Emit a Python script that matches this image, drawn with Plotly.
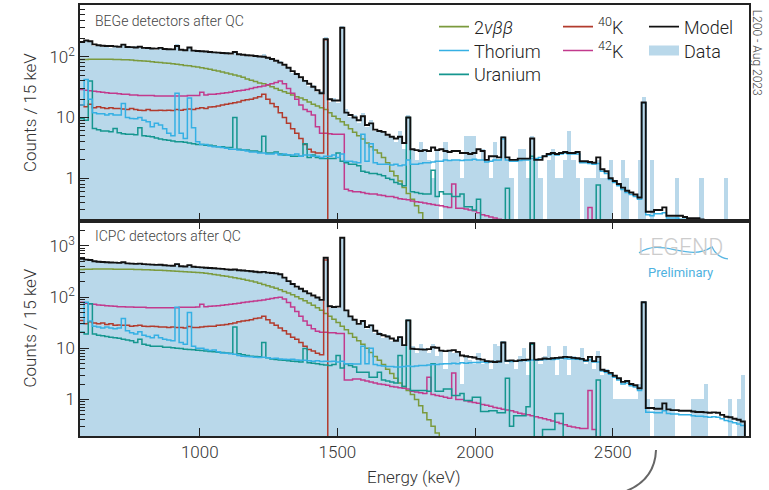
import plotly.graph_objects as go

# ---------------- data (15 keV bins, 565 - 2980 keV, 161 bins) ----------------
BIN_LO = 565
BIN_W = 15
N_BINS = 161

# ---- BEGe panel ----
model_top = [175, 185, 180, 160, 155, 152, 150, 150, 148, 146,
             158, 145, 144, 142, 146, 140, 139, 137, 136, 140,
             134, 133, 132, 150, 130, 128, 142, 126, 124, 123,
             122, 120, 118, 117, 115, 114, 113, 120, 110, 108,
             106, 105, 103, 101, 100, 96, 92, 86, 80, 74,
             66, 58, 52, 46, 40, 36, 32, 28, 25, 195,
             20, 19, 19, 300, 12, 11, 10, 9, 10.5, 7.5,
             8, 6.3, 6.0, 5.8, 5.2, 4.8, 4.5, 4.8, 3.8, 10,
             3.0, 2.9, 2.8, 2.9, 2.8, 3.2, 2.9, 3.0, 2.8, 2.7,
             2.8, 2.8, 2.6, 2.6, 2.5, 2.6, 3.0, 2.8, 2.0, 2.3,
             2.3, 2.2, 4.7, 2.2, 2.0, 2.0, 2.1, 2.1, 2.1, 4.5,
             2.0, 2.0, 2.3, 2.5, 2.6, 2.5, 2.6, 2.7, 2.6, 2.6,
             2.7, 1.9, 1.9, 1.85, 1.8, 2.2, 1.4, 1.3, 1.0, 0.9,
             0.8, 0.7, 0.62, 0.58, 0.54, 0.48, 17.6, 0.28, 0.28, 0.3,
             0.3, 0.33, 0.24, 0.24, 0.24, 0.24, 0.23, 0.22, 0.22, 0.22,
             0.21, 0.18, 0.17, 0.16, 0.15, 0.14, 0.13, 0.12, 0.11, 0.1, 0.1]

data_top = [178, 180, 185, 150, 158, 146, 152, 140, 150, 138,
            165, 143, 140, 148, 138, 142, 132, 140, 128, 142,
            136, 128, 134, 160, 126, 130, 140, 128, 118, 126,
            118, 122, 114, 120, 110, 118, 108, 126, 112, 104,
            108, 100, 106, 98, 110, 94, 95, 82, 84, 70,
            68, 55, 54, 43, 42, 33, 34, 26, 27, 210,
            18, 21, 17, 320, 14, 10, 11, 8, 12, 7,
            9, 6, 6, 6, 5, 5, 4, 6, 3, 11,
            3, 2, 4, 3, 2, 1, 3, 0, 4, 2,
            2, 2, 1, 5, 5, 5, 2, 3, 2, 1,
            4, 2, 5, 2, 1, 0, 3, 3, 1, 5,
            2, 1, 0, 2, 3, 1, 1, 2, 6, 2,
            1, 0, 1, 1, 1, 2, 1, 1, 2, 0,
            0, 2, 1, 0, 0, 2, 22, 0, 2, 0,
            0, 0, 0, 0, 1, 0, 0, 0, 0, 0,
            1, 0, 0, 0, 0, 0, 1, 0, 0, 0, 0]

bb_top = [90, 90, 91, 91, 91, 91, 91, 91, 90, 90,
          89, 89, 88, 87, 86, 85, 84, 83, 81, 80,
          79, 78, 77, 75, 74, 72, 71, 69, 68, 66,
          64, 62, 60, 58, 56, 54, 52, 50, 48, 46,
          43, 41, 39, 37, 36, 34, 32, 30, 28, 26.5,
          25, 23.5, 22, 21, 19.5, 18, 16.5, 15.5, 14.5, 13.5,
          12, 10.5, 9.5, 8.5, 7.5, 6.5, 5.7, 5.0, 4.4, 3.8,
          3.3, 2.9, 2.6, 2.2, 1.8, 1.3, 1.1, 0.9, 0.7, 0.56,
          0.45, 0.35, 0.27, 0.2, 0.15, 0.11, 0.08, 0.06, 0.04, 0.03] + [0.02] * 71

th_top = [16, 42, 20, 12, 11.5, 11.5, 11, 11.5, 11, 11,
          17, 10, 9.6, 9.5, 10, 9.0, 8.5, 7.0, 8.0, 7.5,
          6.5, 5.5, 5.0, 25, 5.5, 4.5, 21, 6.8, 4.0, 3.6,
          3.6, 3.4, 3.3, 3.3, 3.2, 3.1, 3.0, 3.0, 2.9, 2.9,
          2.8, 2.7, 2.7, 2.6, 2.6, 2.5, 2.5, 2.6, 2.4, 2.5,
          2.4, 2.4, 2.5, 2.3, 2.4, 2.4, 2.3, 2.3, 2.2, 2.3,
          2.3, 2.4, 2.2, 2.5, 1.9, 1.9, 1.85, 1.8, 5.3, 1.9,
          3.7, 1.8, 1.7, 1.7, 1.7, 1.65, 1.7, 1.6, 1.65, 2.0,
          1.7, 1.7, 1.75, 1.8, 1.8, 1.85, 1.9, 1.9, 2.0, 1.95,
          2.0, 2.0, 1.95, 2.0, 2.0, 2.05, 2.0, 2.0, 1.85, 1.9,
          2.0, 2.0, 4.4, 2.0, 1.9, 1.9, 1.95, 2.0, 2.0, 2.1,
          2.1, 2.2, 2.3, 2.4, 2.5, 2.4, 2.5, 2.6, 2.5, 2.5,
          2.5, 1.8, 1.8, 1.75, 1.7, 1.75, 1.3, 1.2, 0.95, 0.85,
          0.75, 0.65, 0.58, 0.54, 0.5, 0.45, 17.4, 0.25, 0.24, 0.26,
          0.26, 0.27, 0.22, 0.22, 0.22, 0.21, 0.21, 0.2, 0.2, 0.2,
          0.19, 0.17, 0.16, 0.15, 0.14, 0.13, 0.12, 0.11, 0.1, 0.1, 0.09]

u_top = [9.6, 9, 40, 6.6, 6.3, 6.0, 6.0, 5.8, 6.6, 5.6,
         5.4, 5.3, 5.3, 5.2, 6.8, 5.0, 4.9, 4.8, 4.6, 4.4,
         4.3, 4.2, 4.1, 4.0, 4.0, 3.9, 3.8, 3.7, 3.6, 3.6,
         3.5, 3.5, 3.4, 3.3, 3.3, 3.2, 3.2, 10, 3.0, 2.9,
         2.9, 2.8, 2.8, 2.7, 4.9, 2.6, 2.6, 2.7, 2.5, 2.4,
         2.4, 2.3, 2.3, 2.3, 3.7, 2.2, 2.4, 2.2, 2.1, 2.1,
         2.1, 2.1, 2.6, 1.9, 1.8, 1.7, 1.7, 1.6, 1.3, 1.25,
         1.2, 1.2, 1.15, 1.1, 1.0, 0.95, 0.85, 0.8, 0.75, 10,
         0.6, 0.58, 0.56, 0.55, 0.55, 1.35, 0.5, 0.6, 0.55, 0.55,
         0.5, 0.5, 0.55, 0.34, 0.34, 0.3, 0.45, 0.15, 0.15, 0.15,
         0.14, 0.14, 0.14, 0.68, 0.13, 0.13, 0.12, 0.12, 0.12, 2.3,
         0.11, 0.11, 0.11, 0.1, 0.1, 0.1, 0.1, 0.1, 0.1, 0.1,
         0.1, 0.1, 0.1, 0.1, 0.1, 0.77, 0.08, 0.08, 0.08, 0.08] + [0.08] * 31

k40_top = [16, 15, 16.5, 14.5, 15, 14.5, 14, 14.5, 14, 14,
           13.8, 13.5, 14, 13.5, 13.2, 13, 13.5, 13, 13, 13.2,
           13, 13.2, 13, 13.5, 13.2, 13.5, 13.8, 13.5, 14, 14.5,
           14, 14.8, 15, 15.5, 16, 16.5, 17, 17.5, 18, 19,
           19.5, 20, 21, 22, 24, 20, 17, 15, 12, 10,
           8, 6.5, 5.5, 4.5, 3.6, 3.0, 2.7, 2.6, 2.6, 190] + [0.01] * 101

k42_top = [29, 28, 27.5, 27, 26.5, 26, 25.5, 25, 25, 24.5,
           24, 24, 23.5, 23.5, 23, 23, 23, 23, 22.5, 22.5,
           22.5, 22.5, 22.5, 22.5, 22.5, 22.5, 23, 23, 23, 26,
           23.5, 24, 24, 24.5, 25, 25.5, 26, 27, 27.5, 28,
           29, 30, 31, 32, 33, 34.5, 36, 37.5, 40, 36,
           30, 25, 20, 16, 13.5, 12.5, 11, 7, 5.5, 5.5,
           5.4, 5.3, 5.3, 5.3, 0.66, 0.62, 0.6, 0.6, 0.58, 0.56,
           0.55, 0.55, 0.53, 0.52, 0.5, 0.5, 0.48, 0.46, 0.45, 0.44,
           0.42, 0.41, 0.4, 0.39, 0.38, 0.37, 0.36, 0.35, 0.34, 0.33,
           0.8, 0.32, 0.32, 0.31, 0.3, 0.29, 0.27, 0.25, 0.24, 0.23,
           0.22, 0.21, 0.2, 0.2, 0.19, 0.18, 0.17, 0.17, 0.16, 0.16,
           0.15, 0.15, 0.14, 0.14, 0.13, 0.13, 0.12, 0.12, 0.12, 0.11,
           0.11, 0.11, 0.1, 0.33, 0.1, 0.05, 0.05, 0.05, 0.05, 0.05] + [0.05] * 31

# ---- ICPC panel ----
model_bot = [560, 540, 530, 500, 490, 485, 480, 475, 470, 465,
             480, 455, 450, 445, 450, 440, 435, 430, 425, 428,
             418, 412, 408, 440, 400, 396, 420, 390, 385, 380,
             375, 370, 365, 360, 355, 348, 342, 345, 335, 330,
             325, 320, 312, 305, 310, 300, 295, 290, 280, 240,
             205, 180, 160, 145, 130, 118, 107, 98, 88, 585,
             66, 64, 65, 1440, 55, 42, 36, 30, 34, 26,
             28, 22, 19, 18, 17, 15.5, 14, 16.5, 11.5, 35,
             9.8, 9.6, 9.5, 9.4, 9.6, 10.5, 10.2, 9.0, 8.8, 9.0,
             9.2, 8.5, 7.2, 7.0, 6.8, 6.6, 6.2, 6.0, 5.6, 5.5,
             5.4, 5.5, 13, 5.7, 5.8, 5.6, 5.8, 5.9, 6.0, 12.6,
             6.0, 6.1, 6.3, 6.2, 6.4, 6.5, 6.6, 6.8, 6.7, 6.5,
             6.4, 6.2, 5.8, 6.8, 5.6, 6.8, 3.8, 3.6, 3.3, 2.9,
             2.6, 2.2, 2.3, 2.0, 1.9, 1.66, 79, 0.68, 0.68, 0.66,
             0.66, 0.84, 0.64, 0.62, 0.62, 0.6, 0.6, 0.6, 0.58, 0.57,
             0.57, 0.56, 0.55, 0.56, 0.55, 0.5, 0.46, 0.45, 0.42, 0.4, 0.37]

data_bot = [570, 535, 545, 495, 505, 478, 488, 470, 482, 455,
            490, 448, 460, 438, 455, 432, 440, 425, 420, 432,
            412, 418, 400, 460, 405, 392, 425, 384, 390, 372,
            380, 362, 372, 352, 360, 340, 348, 350, 330, 335,
            318, 325, 305, 310, 315, 298, 290, 297, 272, 250,
            198, 185, 152, 150, 124, 122, 100, 102, 84, 600,
            62, 68, 61, 1480, 57, 40, 38, 28, 36, 24,
            30, 20, 21, 16, 18, 14, 15, 17, 11, 38,
            11, 8, 12, 10, 8, 12, 7, 9, 4, 9,
            8, 9, 2, 7, 6, 5, 8, 5, 6, 4,
            12, 11, 14, 5, 6, 4, 7, 10, 3, 13,
            6, 5, 7, 11, 6, 3, 6, 11, 3, 7,
            6, 10, 5, 7, 4, 9, 3, 4, 3, 1,
            1, 1, 1, 1, 1, 2, 85, 1, 0, 1,
            1, 1, 1, 1, 0, 0, 0, 0, 1, 1,
            1, 2, 0, 0, 0, 0, 0, 1, 0, 1, 3]

bb_bot = [345, 348, 350, 352, 352, 352, 352, 352, 351, 351,
          350, 349, 348, 347, 345, 343, 341, 339, 336, 333,
          330, 327, 323, 320, 316, 313, 309, 306, 302, 298,
          291, 284, 277, 270, 262, 254, 246, 238, 230, 222,
          213, 205, 196, 187, 177, 167, 158, 148, 139, 129,
          120, 111, 101, 93, 85, 77, 69, 62, 55, 48,
          42, 37, 32, 27, 23, 19.5, 16.5, 14, 12, 10,
          8.3, 6.9, 5.8, 4.8, 3.9, 3.2, 2.6, 2.1, 1.8, 1.5,
          1.25, 1.0, 0.75, 0.55, 0.4, 0.3, 0.22, 0.15, 0.1, 0.07] + [0.05] * 71

th_bot = [30, 79, 34, 27, 26, 25, 26, 25, 24, 25,
          38, 22, 20, 19, 21, 18, 17, 16, 18, 16,
          15, 14.5, 14, 63, 13, 12, 50, 11, 10, 10,
          9.5, 9, 9.2, 8.5, 8.1, 8, 7.8, 7.6, 7.2, 7,
          6.9, 6.8, 6.7, 6.6, 6.7, 6.5, 6.3, 6.4, 6.2, 6.1,
          6.0, 6.1, 5.9, 5.8, 5.8, 5.7, 5.6, 5.7, 5.5, 5.6,
          5.5, 5.6, 5.4, 5.6, 5.0, 5.0, 4.9, 4.9, 11, 5.0,
          10, 4.8, 4.6, 4.5, 4.4, 4.4, 4.3, 4.3, 4.4, 4.5,
          4.4, 4.5, 4.6, 4.6, 4.7, 4.8, 4.8, 4.9, 5.0, 5.0,
          5.1, 5.0, 5.2, 5.1, 5.2, 5.3, 5.3, 5.4, 5.3, 5.4,
          5.5, 5.4, 13, 5.6, 5.5, 5.6, 5.7, 5.8, 5.7, 5.9,
          5.8, 5.9, 6.0, 6.1, 6.0, 6.2, 6.3, 6.3, 6.2, 6.2,
          6.1, 6.0, 5.6, 5.9, 5.4, 5.4, 3.6, 3.4, 3.1, 2.7,
          2.4, 2.0, 2.1, 1.85, 1.75, 1.5, 78, 0.56, 0.56, 0.55,
          0.55, 0.6, 0.53, 0.52, 0.52, 0.5, 0.5, 0.5, 0.48, 0.47,
          0.47, 0.46, 0.45, 0.46, 0.45, 0.42, 0.39, 0.37, 0.35, 0.33, 0.31]

u_bot = [20.5, 19, 74, 19, 18, 17.5, 17, 16.5, 16, 15.6,
         15, 14.5, 14, 13, 15, 12, 11.5, 11, 11, 11,
         10.5, 10.5, 10.2, 10, 9.9, 9.6, 9.5, 9.3, 9.1, 9,
         8.8, 8.6, 8.5, 8.4, 8.3, 8.1, 8.0, 26, 7.8, 7.5,
         7.2, 7.0, 6.9, 6.8, 13, 6.5, 6.2, 6.0, 5.9, 5.8,
         5.7, 5.6, 5.5, 5.4, 9.9, 5.2, 5.1, 5.0, 4.8, 4.7,
         4.6, 4.8, 7.2, 4.1, 5.0, 4.6, 4.3, 3.4, 3.4, 3.4,
         2.7, 2.7, 3.4, 2.4, 2.3, 2.2, 2.1, 7.2, 1.8, 35,
         1.5, 1.5, 1.5, 1.5, 1.45, 5.0, 1.45, 1.45, 1.6, 1.6,
         1.2, 1.2, 1.3, 0.95, 0.95, 1.1, 1.1, 0.58, 0.58, 0.6,
         0.6, 0.55, 0.55, 2.6, 0.3, 0.48, 0.48, 0.48, 0.72, 12,
         0.15, 0.15, 0.26, 0.26, 0.26, 0.53, 0.53, 0.15, 0.15, 0.15,
         0.15, 0.15, 0.15, 0.15, 0.15, 2.4, 0.1, 0.1, 0.1, 0.1] + [0.1] * 31

k40_bot = [35, 30, 33, 31, 30, 31, 29, 30, 28, 28.5,
           28, 28, 27, 27.5, 28, 27, 26.5, 27, 26.5, 26,
           26, 25.5, 26, 25.5, 25.5, 25, 26.5, 25.5, 25.5, 26,
           26.5, 27, 27, 28, 28.5, 29, 30, 31, 33, 34,
           35, 36, 38, 39, 42, 36, 31, 28, 25, 22,
           19, 16.5, 15, 13, 11, 9.5, 8.8, 8, 7.5, 530] + [0.01] * 101

k42_bot = [79, 76, 74, 72, 70, 69, 68, 67, 66, 65,
           65, 64, 64, 63, 63, 63, 62, 62, 62, 62,
           62, 62, 62, 62, 63, 63, 63, 63, 64, 72,
           65, 66, 67, 68, 69, 71, 72, 74, 76, 78,
           80, 82, 84, 86, 88, 91, 94, 97, 99, 92,
           78, 64, 52, 42, 34, 28, 24, 21.5, 20.5, 20.5,
           20, 20, 19.5, 19.5, 2.4, 2.4, 2.5, 2.5, 2.4, 2.3,
           2.2, 2.1, 2.0, 1.95, 1.9, 1.8, 1.75, 1.7, 1.65, 1.6,
           1.45, 1.4, 1.35, 1.3, 2.7, 1.25, 1.2, 1.15, 1.1, 1.05,
           3.3, 1.0, 1.0, 0.94, 0.9, 0.87, 0.84, 0.8, 0.77, 0.74,
           0.7, 0.67, 0.64, 0.62, 0.6, 0.57, 0.54, 0.52, 0.5, 0.48,
           0.46, 0.44, 0.42, 0.4, 0.38, 0.36, 0.34, 0.32, 0.3, 0.29,
           0.28, 0.27, 0.27, 1.5, 0.26, 0.1, 0.1, 0.1, 0.1, 0.1] + [0.1] * 31

legend_labels = ["2<i>νββ</i>", "Thorium", "Uranium",
                 "<sup>40</sup>K", "<sup>42</sup>K", "Model", "Data"]
panel_labels = ["BEGe detectors after QC", "ICPC detectors after QC"]
x_ticks = [1000, 1500, 2000, 2500]

for arr in [model_top, data_top, bb_top, th_top, u_top, k40_top, k42_top,
            model_bot, data_bot, bb_bot, th_bot, u_bot, k40_bot, k42_bot]:
    assert len(arr) == N_BINS, len(arr)

# ---------------- styling ----------------
FONT = "Roboto"
C_DATA = "#b9d8ea"
C_MODEL = "#111111"
C_TH = "#35b0e4"
C_U = "#15968f"
C_BB = "#7b9a3d"
C_K40 = "#b23b2d"
C_K42 = "#c23a8d"

W, H = 769, 490
ML, MR, MT, MB = 80, 20, 3, 54
PW = W - ML - MR
PH = H - MT - MB
SPLIT = (436 - 220) / PH


def px_x(px):
    return (px - ML) / PW


def px_y(py):
    return (H - MB - py) / PH


edges = [BIN_LO + BIN_W * i for i in range(N_BINS + 1)]
centers = [e + BIN_W / 2 for e in edges[:-1]]

fig = go.Figure()


def add_panel(xa, ya, data, model, bb, th, u, k40, k42):
    fig.add_trace(go.Bar(x=centers, y=[v if v > 0 else None for v in data],
                         width=BIN_W, marker=dict(color=C_DATA, line=dict(width=0)),
                         showlegend=False, xaxis=xa, yaxis=ya, hoverinfo="skip"))
    for vals, col, lw in [(bb, C_BB, 1.5), (k42, C_K42, 1.5), (k40, C_K40, 1.5),
                          (u, C_U, 1.5), (th, C_TH, 1.5), (model, C_MODEL, 1.9)]:
        fig.add_trace(go.Scatter(x=edges, y=list(vals) + [1e-3], mode="lines",
                                 line=dict(color=col, width=lw, shape="hv"),
                                 showlegend=False, xaxis=xa, yaxis=ya, hoverinfo="skip"))


add_panel("x", "y", data_top, model_top, bb_top, th_top, u_top, k40_top, k42_top)
add_panel("x2", "y2", data_bot, model_bot, bb_bot, th_bot, u_bot, k40_bot, k42_bot)

# legend entries: one small legend per entry so rows sit exactly as in the figure
leg_items = [(legend_labels[0], C_BB, 1.6, 434, 25),
             (legend_labels[1], C_TH, 1.6, 434, 49),
             (legend_labels[2], C_U, 1.6, 434, 73),
             (legend_labels[3], C_K40, 1.6, 558, 25),
             (legend_labels[4], C_K42, 1.6, 558, 49),
             (legend_labels[5], C_MODEL, 1.6, 644, 25),
             (legend_labels[6], C_DATA, 13, 644, 49)]
leg_layout = {}
for k, (name, col, lw, lx, ly) in enumerate(leg_items):
    key = "legend" if k == 0 else f"legend{k + 1}"
    fig.add_trace(go.Scatter(x=[None], y=[None], mode="lines", name=name,
                             line=dict(color=col, width=lw), legend=key,
                             xaxis="x", yaxis="y"))
    leg_layout[key] = dict(x=px_x(lx), y=px_y(ly), xanchor="left", yanchor="middle",
                           bgcolor="rgba(0,0,0,0)",
                           font=dict(family=FONT, size=18, color="#222", weight=300),
                           itemwidth=30, tracegroupgap=0, orientation="v")

axis_line = dict(showline=True, linecolor="#222", linewidth=1.5, showgrid=False,
                 zeroline=False)
tickfont = dict(family=FONT, size=17, color="#333", weight=300)

minor_vals = [v * m for v in (0.1, 1, 10, 100, 1000) for m in range(2, 10)]

fig.update_layout(
    width=W, height=H, margin=dict(l=ML, r=MR, t=MT, b=MB),
    paper_bgcolor="white", plot_bgcolor="white",
    font=dict(family=FONT, size=17, color="#222", weight=300),
    bargap=0, barmode="overlay",
    xaxis=dict(domain=[0, 1], anchor="y", range=[565, 2995], tickvals=x_ticks,
               ticks="inside", ticklen=8, tickcolor="#222", showticklabels=False,
               mirror=True, **axis_line),
    yaxis=dict(domain=[SPLIT, 1], anchor="x", type="log", range=[-0.705, 2.852],
               tickvals=[1, 10, 100], ticktext=["1", "10", "10<sup>2</sup>"],
               ticks="inside", ticklen=9, tickcolor="#222", tickfont=tickfont,
               minor=dict(ticks="inside", ticklen=5, tickcolor="#222", tickvals=minor_vals),
               mirror=True, **axis_line),
    xaxis2=dict(domain=[0, 1], anchor="y2", range=[565, 2995], tickvals=x_ticks,
                ticks="inside", ticklen=8, tickcolor="#222", tickfont=tickfont,
                mirror="ticks", matches="x", **axis_line),
    yaxis2=dict(domain=[0, SPLIT], anchor="x2", type="log", range=[-0.714, 3.486],
                tickvals=[1, 10, 100, 1000],
                ticktext=["1", "10", "10<sup>2</sup>", "10<sup>3</sup>"],
                ticks="inside", ticklen=9, tickcolor="#222", tickfont=tickfont,
                minor=dict(ticks="inside", ticklen=5, tickcolor="#222", tickvals=minor_vals),
                mirror=True, **axis_line),
    **leg_layout,
)

ann = [
    dict(text=panel_labels[0], x=px_x(93), y=px_y(19), xanchor="left", yanchor="middle",
         font=dict(size=14, color="#444")),
    dict(text=panel_labels[1], x=px_x(93), y=px_y(235), xanchor="left", yanchor="middle",
         font=dict(size=14, color="#444")),
    dict(text="Counts / 15 keV", x=px_x(30), y=px_y(111.5), textangle=-90,
         xanchor="center", yanchor="middle", font=dict(size=17, color="#333")),
    dict(text="Counts / 15 keV", x=px_x(30), y=px_y(328), textangle=-90,
         xanchor="center", yanchor="middle", font=dict(size=17, color="#333")),
    dict(text="Energy (keV)", x=px_x(414), y=px_y(477), xanchor="center", yanchor="middle",
         font=dict(size=17, color="#333")),
    dict(text="L200 - Aug 2023", x=px_x(757), y=px_y(51), textangle=90,
         xanchor="center", yanchor="middle", font=dict(size=12, color="#444")),
    dict(text="LEGEND", x=px_x(680), y=px_y(247), xanchor="center", yanchor="middle",
         font=dict(size=23, color="#cccccc")),
    dict(text="Preliminary", x=px_x(680), y=px_y(272), xanchor="center", yanchor="middle",
         font=dict(size=13, color="#4fb2e0", weight=400)),
]
for a in ann:
    a.update(xref="paper", yref="paper", showarrow=False)
    a["font"].setdefault("family", FONT)
fig.update_layout(annotations=ann)


def path(cmds):
    out = []
    for c in cmds:
        if isinstance(c, str):
            out.append(c)
        else:
            out.append(f"{px_x(c[0]):.4f},{px_y(c[1]):.4f}")
    return " ".join(out)


fig.update_layout(shapes=[
    dict(type="path", xref="paper", yref="paper",
         path=path(["M", (639, 252), "C", (662, 236), (688, 262), (712, 246),
                    "Q", (717, 257), (728, 258)]),
         line=dict(color="#5ab7e3", width=1.3)),
    dict(type="path", xref="paper", yref="paper",
         path=path(["M", (656, 450), "Q", (655, 479), (627, 491)]),
         line=dict(color="#666666", width=2)),
])

fig.write_html("out.html", config={"displayModeBar": False},
               post_script="document.body.style.margin='0';document.body.style.padding='0';")
